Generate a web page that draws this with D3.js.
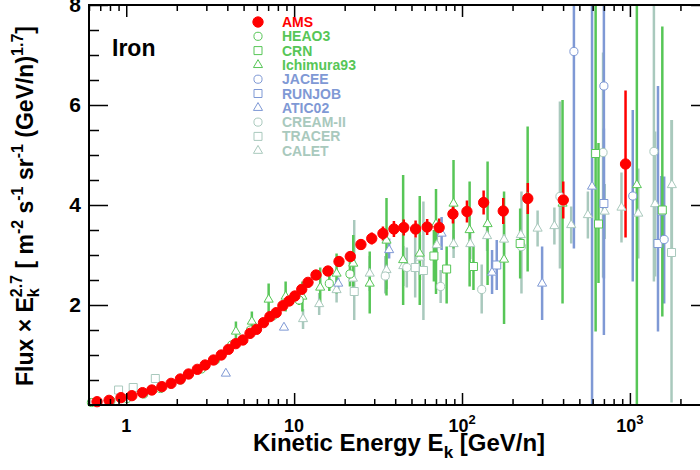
<!DOCTYPE html>
<html lang="en">
<head>
<meta charset="UTF-8">
<title>Iron flux</title>
<script src="https://cdn.jsdelivr.net/npm/d3@7"></script>
<style>
  body { margin: 0; background: #fff; }
  svg text { font-family: "Liberation Sans", Arial, Helvetica, sans-serif; font-weight: bold; }
</style>
</head>
<body>
<div id="chart"></div>
<script>
// ---- data (kinetic energy in GeV/n, flux x E^2.7) ----
const amsE = [0.67, 0.79, 0.93, 1.08, 1.25, 1.42, 1.63, 1.85, 2.10, 2.35, 2.65, 2.95, 3.31, 3.68, 4.06, 4.49, 4.95, 5.46, 5.97, 6.57, 7.17, 7.82, 8.57, 9.34, 10.1, 11.1, 12.1, 13.5, 15.9, 18.5, 21.6, 25.0, 29.0, 33.8, 39.3, 45.0, 52.9, 62.0, 73.1, 88.3, 107, 134.5, 176, 246.5, 401, 942];
const amsF = [0.066, 0.093, 0.147, 0.187, 0.247, 0.30, 0.367, 0.433, 0.52, 0.62, 0.713, 0.80, 0.90, 1.00, 1.113, 1.227, 1.30, 1.433, 1.513, 1.647, 1.767, 1.847, 1.987, 2.08, 2.18, 2.313, 2.453, 2.60, 2.68, 2.87, 2.97, 3.21, 3.33, 3.43, 3.52, 3.55, 3.52, 3.56, 3.55, 3.82, 3.87, 4.05, 3.88, 4.13, 4.10, 4.82];
const amsErr = [0.01, 0.01, 0.01, 0.01, 0.01, 0.01, 0.01, 0.01, 0.01, 0.01, 0.01, 0.01, 0.01, 0.01, 0.01, 0.01, 0.01, 0.02, 0.02, 0.02, 0.02, 0.02, 0.03, 0.03, 0.03, 0.04, 0.05, 0.06, 0.1, 0.1, 0.1, 0.11, 0.12, 0.14, 0.16, 0.16, 0.17, 0.16, 0.18, 0.19, 0.22, 0.24, 0.26, 0.31, 0.37, 1.47];

const heaoE = [0.62, 0.81, 1.01, 1.27, 1.6, 2.1, 2.8, 3.4, 4.25, 5.5, 7.45, 10.7, 16.2, 21.5];
const heaoF = [0.05, 0.085, 0.13, 0.22, 0.33, 0.50, 0.72, 0.9, 1.2, 1.5, 1.78, 2.1, 2.43, 2.62];
const heaoErr = [0.01, 0.01, 0.01, 0.02, 0.02, 0.03, 0.03, 0.04, 0.05, 0.06, 0.08, 0.1, 0.15, 0.25];

const crnE = [68, 81, 117, 222, 625, 650, 1560];
const crnF = [2.98, 2.72, 2.77, 3.23, 5.03, 3.62, 3.9];
const crnLo = [0.51, 0.69, 0.47, 0.7, 3.56, 1.18, 2.13];
const crnHi = [0.52, 0.45, 0.40, 0.7, 4.0, 1.62, 3.67];

const ichE = [4.5, 5.6, 7.05, 8.9, 11.2, 14.3, 17.9, 22.5, 28.2, 35.5, 44.6, 56, 70, 89, 111, 142, 178, 246, 397, 1100];
const ichF = [1.47, 1.67, 2.11, 2.17, 2.17, 2.35, 2.63, 2.83, 2.43, 3.29, 2.9, 3.03, 3.62, 4.03, 3.5, 3.62, 2.91, 4.15, 4.03, 4.4];
const ichLo = [0.2, 0.2, 0.31, 0.3, 0.3, 0.35, 0.4, 0.46, 0.6, 1.1, 0.9, 1.03, 1.4, 0.9, 1.13, 1.22, 1.29, 1.48, 2.0, 4.4];
const ichHi = [0.2, 0.2, 0.32, 0.3, 0.3, 0.4, 0.4, 0.57, 0.64, 0.85, 1.7, 1.15, 0.7, 0.87, 0.97, 1.25, 1.36, 1.42, 2.07, 4.0];

const jaceeE = [464, 700, 1040, 1600];
const jaceeF = [7.07, 6.38, 4.18, 3.31];
const jaceeLo = [3.94, 4.98, 1.71, 1.28];
const jaceeHi = [3.0, 3.0, 1.72, 1.26];

const runjobE = [161, 700, 1470, 1540];
const runjobF = [2.8, 4.03, 3.23, 3.88];
const runjobLo = [0.5, 1.5, 1.76, 0.7];
const runjobHi = [0.5, 1.5, 3.15, 0.7];

const aticE = [3.92, 8.7, 18.3, 36.8, 75.6, 151, 300, 595];
const aticF = [0.63, 1.55, 2.43, 3.1, 3.43, 2.65, 2.43, 4.37];
const aticLo = [0.02, 0.03, 0.12, 0.17, 0.33, 0.43, 0.73, 4.4];
const aticHi = [0.02, 0.03, 0.12, 0.23, 0.33, 0.45, 0.74, 4.0];

const creamE = [34.9, 46.9, 74.6, 131, 226, 383, 692, 1390];
const creamF = [2.58, 2.75, 2.37, 2.31, 3.17, 4.17, 5.05, 5.07];
const creamLo = [0.35, 0.4, 0.33, 0.48, 0.94, 1.44, 2.5, 2.6];
const creamHi = [0.4, 0.4, 0.33, 0.5, 1.1, 1.9, 2.0, 3.0];

const tracerE = [0.9, 1.1, 1.49, 22.8, 52.6, 58.9, 1770];
const tracerF = [0.30, 0.35, 0.53, 2.27, 2.75, 2.69, 3.05];
const tracerLo = [0.02, 0.02, 0.03, 0.57, 0.6, 0.99, 3.0];
const tracerHi = [0.02, 0.02, 0.03, 1.43, 0.6, 1.38, 2.65];

const caletE = [11.3, 14.1, 17.9, 22.4, 28.2, 35.5, 44.7, 56.2, 70.8, 89.1, 112, 141, 178, 224, 282, 355, 447, 562, 708, 891, 1122, 1413, 1778];
const caletF = [1.72, 2.02, 2.30, 2.53, 2.63, 2.70, 2.78, 2.95, 3.2, 3.22, 3.22, 3.38, 3.31, 3.40, 3.53, 3.58, 3.60, 3.80, 3.87, 3.95, 3.83, 4.02, 4.40];
const caletErr = [0.2, 0.22, 0.25, 0.3, 0.35, 0.38, 0.4, 0.45, 0.3, 0.28, 0.3, 0.3, 0.3, 0.32, 0.36, 0.37, 0.37, 0.47, 0.55, 0.7, 0.9, 1.45, 1.3];

const legendNames = ["AMS", "HEAO3", "CRN", "Ichimura93", "JACEE", "RUNJOB", "ATIC02", "CREAM-II", "TRACER", "CALET"];
const xTickValues = [1, 10, 100, 1000];
const xTickLabels = [["1", ""], ["10", ""], ["10", "2"], ["10", "3"]];
const yTickValues = [2, 4, 6, 8];

// colours
const red = "#ff0000", green = "#57c657", blue = "#7f99d5", grey = "#a9c9bd";

// ---- layout ----
const width = 700, height = 470;
const plotLeft = 89, plotRight = 710, plotTop = 5, plotBottom = 405;

const svg = d3.select("#chart").append("svg")
    .attr("width", width)
    .attr("height", height);

const x = d3.scaleLog().domain([0.6, 3000]).range([plotLeft, plotRight]);
const y = d3.scaleLinear().domain([0, 8]).range([plotBottom, plotTop]);

svg.append("defs").append("clipPath").attr("id", "plotclip")
  .append("rect")
    .attr("x", plotLeft).attr("y", plotTop)
    .attr("width", plotRight - plotLeft).attr("height", plotBottom - plotTop);

const sym = {
  circle: d3.symbol().type(d3.symbolCircle).size(52)(),
  square: d3.symbol().type(d3.symbolSquare).size(64)(),
  triangle: d3.symbol().type(d3.symbolTriangle).size(36)(),
  dot: d3.symbol().type(d3.symbolCircle).size(84)()
};

const bars = svg.append("g").attr("clip-path", "url(#plotclip)");
const marks = svg.append("g");

function drawSeries(E, F, lo, hi, shape, color, filled, barW) {
  const pts = E.map((e, i) => ({ e: e, f: F[i], lo: lo[i], hi: hi[i] }));
  bars.append("g").selectAll("line")
    .data(pts)
    .enter()
    .append("line")
      .attr("x1", d => x(d.e))
      .attr("x2", d => x(d.e))
      .attr("y1", d => y(d.f - d.lo))
      .attr("y2", d => y(d.f + d.hi))
      .attr("stroke", color)
      .attr("stroke-width", barW);
  marks.append("g").selectAll("path")
    .data(pts)
    .enter()
    .append("path")
      .attr("d", sym[shape])
      .attr("transform", d => `translate(${x(d.e)},${y(d.f)})`)
      .attr("fill", filled ? color : "#fff")
      .attr("stroke", color)
      .attr("stroke-width", 1);
}

// grey first, then blue, green, red on top
drawSeries(caletE, caletF, caletErr, caletErr, "triangle", grey, false, 2.5);
drawSeries(tracerE, tracerF, tracerLo, tracerHi, "square", grey, false, 2.5);
drawSeries(creamE, creamF, creamLo, creamHi, "circle", grey, false, 2.5);
drawSeries(aticE, aticF, aticLo, aticHi, "triangle", blue, false, 2.5);
drawSeries(runjobE, runjobF, runjobLo, runjobHi, "square", blue, false, 2.5);
drawSeries(jaceeE, jaceeF, jaceeLo, jaceeHi, "circle", blue, false, 2.5);
drawSeries(ichE, ichF, ichLo, ichHi, "triangle", green, false, 2.5);
drawSeries(crnE, crnF, crnLo, crnHi, "square", green, false, 2.5);
drawSeries(heaoE, heaoF, heaoErr, heaoErr, "circle", green, false, 2.5);
drawSeries(amsE, amsF, amsErr, amsErr, "dot", red, true, 2.5);

// ---- axes (ticks point inward, like ROOT) ----
const minorX = x.ticks().filter(v => !xTickValues.includes(v));
const minorY = d3.range(0.5, 8, 0.5).filter(v => !yTickValues.includes(v));

function tidy(g) {
  g.select(".domain").remove();
  g.selectAll("line").attr("stroke", "#000").attr("stroke-width", 1.5);
}

svg.append("g").attr("transform", `translate(0,${plotBottom})`)
  .call(d3.axisBottom(x).tickValues(minorX).tickSize(-6).tickFormat("")).call(tidy);
svg.append("g").attr("transform", `translate(0,${plotBottom})`)
  .call(d3.axisBottom(x).tickValues(xTickValues).tickSize(-12).tickFormat("")).call(tidy);
svg.append("g").attr("transform", `translate(0,${plotTop})`)
  .call(d3.axisTop(x).tickValues(minorX).tickSize(-6).tickFormat("")).call(tidy);
svg.append("g").attr("transform", `translate(0,${plotTop})`)
  .call(d3.axisTop(x).tickValues(xTickValues).tickSize(-12).tickFormat("")).call(tidy);

svg.append("g").attr("transform", `translate(${plotLeft},0)`)
  .call(d3.axisLeft(y).tickValues(minorY).tickSize(-10).tickFormat("")).call(tidy);
svg.append("g").attr("transform", `translate(${plotLeft},0)`)
  .call(d3.axisLeft(y).tickValues(yTickValues).tickSize(-19).tickPadding(8).tickFormat(d3.format("d")))
  .call(tidy)
  .call(g => g.selectAll("text").attr("fill", "#000").style("font-size", "21px"));
svg.append("g").attr("transform", `translate(${plotRight},0)`)
  .call(d3.axisRight(y).tickValues(minorY).tickSize(-10).tickFormat("")).call(tidy);
svg.append("g").attr("transform", `translate(${plotRight},0)`)
  .call(d3.axisRight(y).tickValues(yTickValues).tickSize(-19).tickFormat("")).call(tidy);

// frame
svg.append("rect")
    .attr("x", plotLeft).attr("y", plotTop)
    .attr("width", plotRight - plotLeft).attr("height", plotBottom - plotTop)
    .attr("fill", "none")
    .attr("stroke", "#000")
    .attr("stroke-width", 2);

// x tick labels with exponents
xTickValues.forEach((v, i) => {
  const t = svg.append("text")
      .attr("x", x(v))
      .attr("y", 432)
      .attr("text-anchor", "middle")
      .style("font-size", "18px");
  t.append("tspan").text(xTickLabels[i][0]);
  if (xTickLabels[i][1]) {
    t.append("tspan").attr("dy", -8).style("font-size", "13px").text(xTickLabels[i][1]);
  }
});

// x title
const xt = svg.append("text")
    .attr("x", 399)
    .attr("y", 451)
    .attr("text-anchor", "middle")
    .style("font-size", "24px");
xt.append("tspan").text("Kinetic Energy E");
xt.append("tspan").attr("dy", 7).style("font-size", "17px").text("k");
xt.append("tspan").attr("dy", -7).text(" [GeV/n]");

// y title
const yt = svg.append("text")
    .attr("transform", "translate(33,206) rotate(-90)")
    .attr("text-anchor", "middle")
    .style("font-size", "23px");
yt.append("tspan").text("Flux \u00d7 E");
yt.append("tspan").attr("dy", 6).style("font-size", "16px").text("k");
yt.append("tspan").attr("dx", -9).attr("dy", -17).style("font-size", "16px").text("2.7");
yt.append("tspan").attr("dy", 11).text(" [ m");
yt.append("tspan").attr("dy", -10).style("font-size", "16px").text("-2");
yt.append("tspan").attr("dy", 10).text(" s");
yt.append("tspan").attr("dy", -10).style("font-size", "16px").text("-1");
yt.append("tspan").attr("dy", 10).text(" sr");
yt.append("tspan").attr("dy", -10).style("font-size", "16px").text("-1");
yt.append("tspan").attr("dy", 10).text(" (GeV/n)");
yt.append("tspan").attr("dy", -10).style("font-size", "16px").text("1.7");
yt.append("tspan").attr("dy", 10).text("]");

// Iron label
svg.append("text")
    .attr("x", 112)
    .attr("y", 56)
    .style("font-size", "23px")
    .text("Iron");

// legend
const legendShapes = ["dot", "circle", "square", "triangle", "circle", "square", "triangle", "circle", "square", "triangle"];
const legendColors = [red, green, green, green, blue, blue, blue, grey, grey, grey];
legendNames.forEach((name, i) => {
  const ly = 22 + i * 14.3;
  svg.append("path")
      .attr("d", sym[legendShapes[i]])
      .attr("transform", `translate(258,${ly})`)
      .attr("fill", i === 0 ? red : "#fff")
      .attr("stroke", legendColors[i])
      .attr("stroke-width", 1);
  svg.append("text")
      .attr("x", 282)
      .attr("y", ly + 5)
      .attr("fill", legendColors[i])
      .style("font-size", "14px")
      .text(name);
});
</script>
</body>
</html>
